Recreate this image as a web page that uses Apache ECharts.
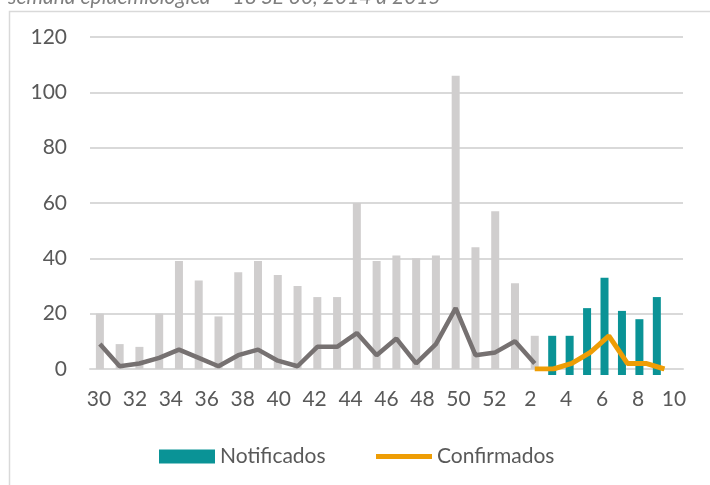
<!DOCTYPE html>
<html>
<head>
<meta charset="utf-8">
<script src="https://cdn.jsdelivr.net/npm/echarts@6/dist/echarts.min.js"></script>
<style>
  html, body { margin: 0; padding: 0; background: #fff; }
  #chart { width: 710px; height: 485px; }
</style>
</head>
<body>
<div id="chart"></div>
<script>
// semanas epidemiológicas (eixo visível)
const weekLabels = ["30", "31", "32", "33", "34", "35", "36", "37", "38", "39", "40", "41",
  "42", "43", "44", "45", "46", "47", "48", "49", "50", "51", "52",
  "1", "2", "3", "4", "5", "6", "7", "8", "9", "10"];
const yTicks = [0, 20, 40, 60, 80, 100, 120];

// 2014 (cinza)
const notificados2014 = [20, 9, 8, 20, 39, 32, 19, 35, 39, 34, 30, 26, 26, 60, 39, 41, 40, 41, 106, 44, 57, 31, 12];
const confirmados2014 = [9, 1, 2, 4, 7, 4, 1, 5, 7, 3, 1, 8, 8, 13, 5, 11, 2, 9, 22, 5, 6, 10, 2];

// 2015
const notificados2015 = [12, 12, 22, 33, 21, 18, 26];
const confirmados2015 = [0, 0, 2, 6, 12, 2, 2, 0];

const titleText = "semana epidemiológica – 18 SE 30, 2014 a 2015";

const FONT = "Lato";
const TEXT = "#595959";

// hidden slot axes (Excel draws each year on its own category axis)
const graySlots = Array.from({ length: 30 }, (_, i) => "g" + i);
const tealSlots = Array.from({ length: 34 }, (_, i) => "t" + i);
const tealStart = 26;
const orangeStart = 24;

const chart = echarts.init(document.getElementById("chart"));

chart.setOption({
  animation: false,
  textStyle: { fontFamily: FONT },
  title: {
    text: titleText,
    left: 3,
    top: -18,
    textStyle: { fontFamily: FONT, fontStyle: "italic", fontWeight: "normal", fontSize: 21, color: "#7f7f7f" }
  },
  graphic: [
    {
      type: "rect",
      left: 7,
      top: 9,
      shape: { width: 760, height: 560 },
      style: { fill: "none", stroke: "#d9d9d9", lineWidth: 1.5 },
      z: -1
    }
  ],
  legend: [
    {
      data: [{ name: "Notificados", icon: "rect" }],
      left: 154,
      top: 441,
      itemWidth: 56,
      itemHeight: 14,
      itemGap: 6,
      textStyle: { fontFamily: FONT, fontSize: 21, color: TEXT }
    },
    {
      data: [{ name: "Confirmados", icon: "rect" }],
      left: 371,
      top: 441,
      itemWidth: 56,
      itemHeight: 5,
      textStyle: { fontFamily: FONT, fontSize: 21, color: TEXT }
    }
  ],
  grid: {
    left: 90,
    right: 27,
    top: 37,
    bottom: 116,
    containLabel: false
  },
  xAxis: [
    {
      type: "category",
      data: weekLabels,
      boundaryGap: true,
      axisLine: { show: true, lineStyle: { color: "#d9d9d9", width: 2 } },
      axisTick: { show: false },
      axisLabel: { interval: 1, margin: 20, fontFamily: FONT, fontSize: 21, color: TEXT }
    },
    { type: "category", data: graySlots, boundaryGap: true, show: false },
    { type: "category", data: weekLabels, boundaryGap: false, show: false },
    { type: "category", data: tealSlots, boundaryGap: true, show: false }
  ],
  yAxis: {
    type: "value",
    min: yTicks[0],
    max: yTicks[yTicks.length - 1],
    interval: 20,
    axisLine: { show: false },
    axisTick: { show: false },
    axisLabel: { margin: 23, fontFamily: FONT, fontSize: 21, color: TEXT },
    splitLine: { lineStyle: { color: "#d9d9d9", width: 2 } }
  },
  series: [
    {
      name: "Notificados 2014",
      type: "bar",
      xAxisIndex: 1,
      barWidth: 8,
      itemStyle: { color: "#d0cece" },
      data: notificados2014
    },
    {
      name: "Confirmados 2014",
      type: "line",
      xAxisIndex: 1,
      symbol: "none",
      lineStyle: { color: "#767171", width: 4.5 },
      itemStyle: { color: "#767171" },
      data: confirmados2014
    },
    {
      name: "Notificados",
      type: "custom",
      xAxisIndex: 3,
      itemStyle: { color: "#0a9396" },
      data: notificados2015.map((v, i) => [tealStart + i, v]),
      encode: { x: 0, y: 1 },
      renderItem: function (params, api) {
        const top = api.coord([api.value(0), api.value(1)]);
        const base = api.coord([api.value(0), 0]);
        return {
          type: "rect",
          shape: { x: top[0] - 4, y: top[1], width: 8, height: base[1] - top[1] + 6 },
          style: api.style()
        };
      },
      z: 3
    },
    {
      name: "Confirmados",
      type: "line",
      xAxisIndex: 2,
      symbol: "none",
      lineStyle: { color: "#ee9d05", width: 5 },
      itemStyle: { color: "#ee9d05" },
      data: new Array(orangeStart).fill(null).concat(confirmados2015),
      z: 4
    }
  ]
});
</script>
</body>
</html>
